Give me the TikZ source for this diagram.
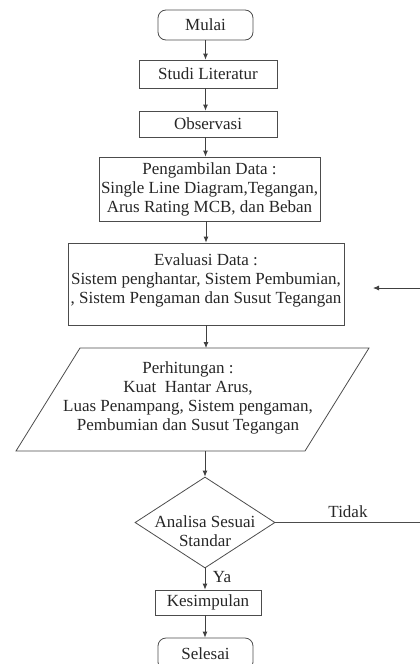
\documentclass[tikz,border=0pt]{standalone}
\usepackage{fontspec}
\setmainfont{Liberation Serif}
\usetikzlibrary{shapes.geometric,arrows.meta}
\begin{document}
\begin{tikzpicture}[x=1pt,y=-1pt,
 every node/.style={font=\fontsize{17}{19}\selectfont, text=black!85},
 box/.style={draw=black!70, line width=0.8pt, inner sep=0pt, align=center},
 term/.style={box, rounded corners=8pt},
 arr/.style={draw=black!75, line width=0.8pt, -{Latex[length=6pt,width=5pt]}},
 ln/.style={draw=black!70, line width=0.8pt}]
\useasboundingbox (0,0) rectangle (420,664);
\clip (0,0) rectangle (420,664);
\node[term, minimum width=95pt, minimum height=30pt] (mulai) at (205.5,25) {Mulai};
\node[box, minimum width=138pt, minimum height=28pt] (studi) at (208,74) {Studi Literatur};
\node[box, minimum width=138pt, minimum height=26pt] (obs) at (208,124) {Observasi};
\node[box, minimum width=221pt, minimum height=64pt] (ambil) at (209.5,189) {Pengambilan Data :\\Single Line Diagram,Tegangan,\\Arus Rating MCB, dan Beban};
\node[box, minimum width=276pt, minimum height=82pt] (eval) at (206,284) {};
\node[align=center] (evaltext) at (206,280) {Evaluasi Data :\\Sistem penghantar, Sistem Pembumian,\\, Sistem Pengaman dan Susut Tegangan};
\coordinate (htl) at (80,348);
\coordinate (htr) at (369,348);
\coordinate (hbr) at (305,451);
\coordinate (hbl) at (16,451);
\coordinate (htop) at (206,348);
\coordinate (hbot) at (205,451);
\draw[ln] (htl) -- (htr) -- (hbr) -- (hbl) -- cycle;
\node[align=center] (hitungtext) at (188,397.5) {Perhitungan :\\Kuat\ \ Hantar Arus,\\Luas Penampang, Sistem pengaman,\\Pembumian dan Susut Tegangan};
\node[box, diamond, minimum width=140pt, minimum height=91pt] (dia) at (205,522.5) {};
\node[align=center] (diatext) at (205,531) {Analisa Sesuai\\Standar};
\node[box, minimum width=106pt, minimum height=25pt] (kes) at (208,602.5) {Kesimpulan};
\node[term, minimum width=95pt, minimum height=32pt] (sel) at (205.5,654) {Selesai};
\node (tidak) at (348,512) {Tidak};
\node (ya) at (222,577) {Ya};
\coordinate (tidakend) at (422,522.5);
\coordinate (backstart) at (422,288);
\coordinate (backtip) at (373,288);
\draw[arr] (mulai.south) -- (mulai.south |- studi.north);
\draw[arr] (mulai.south |- studi.south) -- (mulai.south |- obs.north);
\draw[arr] (mulai.south |- obs.south) -- (mulai.south |- ambil.north);
\draw[arr] (eval.north |- ambil.south) -- (eval.north);
\draw[arr] (eval.south) -- (htop);
\draw[arr] (hbot) -- (dia.north);
\draw[arr] (dia.south) -- (dia.south |- kes.north);
\draw[arr] (dia.south |- kes.south) -- (dia.south |- sel.north);
\draw[ln] (dia.east) -- (tidakend);
\draw[arr] (backstart) -- (backtip);
\end{tikzpicture}
\end{document}
